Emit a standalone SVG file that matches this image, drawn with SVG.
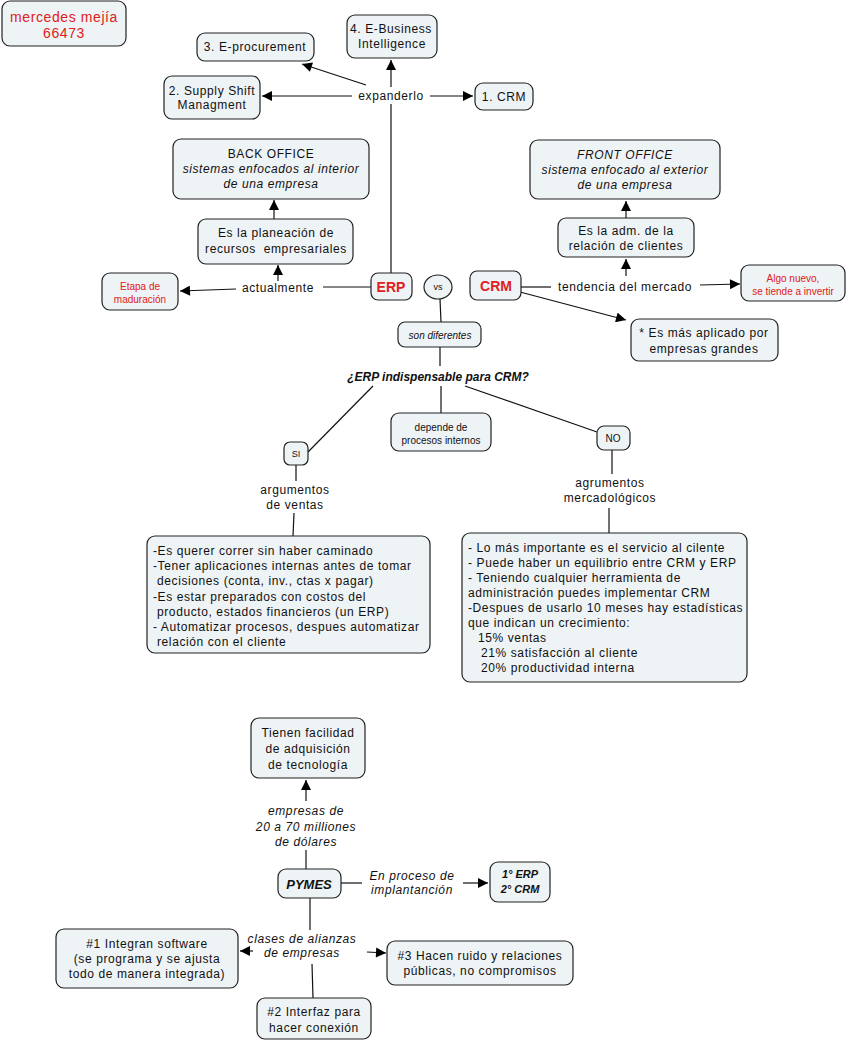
<svg xmlns="http://www.w3.org/2000/svg" width="847" height="1042" viewBox="0 0 847 1042">
<defs>
<marker id="a" viewBox="0 0 10 10" refX="10" refY="5" markerWidth="11" markerHeight="10" orient="auto" markerUnits="userSpaceOnUse"><path d="M0,0 L10,5 L0,10 z" fill="#000"/></marker>
<style>
.b{fill:#eef3f5;stroke:#222;stroke-width:1.2}
text{font-family:"Liberation Sans",Arial,sans-serif;font-size:12px;letter-spacing:0.6px;fill:#111;text-anchor:middle;dominant-baseline:central}
.l{text-anchor:start}
.i{font-style:italic}
.r{fill:#e02020}
.s{font-size:10px;letter-spacing:0}
.bi{font-weight:bold;font-style:italic;font-size:12.5px;letter-spacing:0}
.c{stroke:#111;stroke-width:1.2;fill:none}
.c.m{marker-end:url(#a)}
</style>
</defs>
<rect width="847" height="1042" fill="#fff"/>
<g id="connectors">
<line class="c" x1="391" y1="273" x2="391" y2="104"/>
<line class="c m" x1="391" y1="87" x2="391" y2="60"/>
<line class="c m" x1="352" y1="96" x2="262" y2="96"/>
<line class="c m" x1="430" y1="96" x2="473" y2="96"/>
<line class="c m" x1="366" y1="85" x2="302" y2="64"/>
<line class="c" x1="371" y1="287" x2="323" y2="287"/>
<line class="c m" x1="236" y1="289" x2="180" y2="291"/>
<line class="c m" x1="278" y1="281" x2="278" y2="265"/>
<line class="c m" x1="274" y1="219" x2="274" y2="200"/>
<line class="c" x1="440" y1="299" x2="441" y2="322"/>
<line class="c" x1="440" y1="347" x2="440" y2="366"/>
<line class="c" x1="373" y1="386" x2="308" y2="452"/>
<line class="c" x1="441" y1="386" x2="441" y2="413"/>
<line class="c" x1="465" y1="386" x2="597" y2="432"/>
<line class="c" x1="296" y1="465" x2="296" y2="481"/>
<line class="c" x1="294" y1="513" x2="293" y2="536"/>
<line class="c" x1="612" y1="450" x2="612" y2="474"/>
<line class="c" x1="609" y1="508" x2="609" y2="533"/>
<line class="c" x1="521" y1="287" x2="551" y2="287"/>
<line class="c m" x1="700" y1="285" x2="740" y2="284"/>
<line class="c m" x1="626" y1="276" x2="626" y2="259"/>
<line class="c m" x1="626" y1="218" x2="626" y2="201"/>
<line class="c m" x1="520" y1="292" x2="626" y2="320"/>
<line class="c" x1="306" y1="869" x2="306" y2="850"/>
<line class="c m" x1="306" y1="801" x2="306" y2="780"/>
<line class="c" x1="341" y1="883" x2="362" y2="883"/>
<line class="c m" x1="463" y1="883" x2="488" y2="883"/>
<line class="c" x1="310" y1="898" x2="310" y2="930"/>
<line class="c m" x1="253" y1="951" x2="240" y2="951"/>
<line class="c m" x1="367" y1="952" x2="386" y2="953"/>
<line class="c" x1="312" y1="964" x2="313" y2="998"/>
</g>
<g id="n-mercedes"><rect class="b" x="2" y="1" width="124" height="45" rx="8"/><text class="r" x="64" y="17" style="font-size:14px">mercedes mejía</text><text class="r" x="64" y="33" style="font-size:14px">66473</text></g>
<g id="n-eproc"><rect class="b" x="197" y="33" width="117" height="28" rx="8"/><text x="255" y="47">3. E-procurement</text></g>
<g id="n-ebi"><rect class="b" x="347" y="15" width="90" height="43" rx="8"/><text x="391" y="29">4. E-Business</text><text x="392" y="44">Intelligence</text></g>
<g id="n-supply"><rect class="b" x="164" y="76" width="96" height="43" rx="8"/><text x="212" y="91">2. Supply Shift</text><text x="212" y="105">Managment</text></g>
<g id="n-expanderlo"><text x="391" y="96">expanderlo</text></g>
<g id="n-crm1"><rect class="b" x="475" y="83" width="58" height="27" rx="8"/><text x="504" y="97">1. CRM</text></g>
<g id="n-back"><rect class="b" x="173" y="139" width="196" height="60" rx="8"/><text x="271" y="154">BACK OFFICE</text><text class="i" x="271" y="169">sistemas enfocados al interior</text><text class="i" x="271" y="184">de una empresa</text></g>
<g id="n-planeacion"><rect class="b" x="198" y="219" width="155" height="45" rx="8"/><text x="276" y="233">Es la planeación de</text><text x="276" y="249" xml:space="preserve">recursos  empresariales</text></g>
<g id="n-actualmente"><text x="278" y="288">actualmente</text></g>
<g id="n-etapa"><rect class="b" x="102" y="273" width="76" height="37" rx="8"/><text class="r s" x="140" y="286">Etapa de</text><text class="r s" x="140" y="299">maduración</text></g>
<g id="n-erp"><rect class="b" x="371" y="273" width="41" height="27" rx="7"/><text class="r" x="391" y="287" style="font-size:14px;font-weight:bold;letter-spacing:0">ERP</text></g>
<g id="n-vs"><ellipse class="b" cx="438" cy="287" rx="14" ry="12"/><text x="438" y="287" style="font-size:9px;letter-spacing:0">vs</text></g>
<g id="n-crm"><rect class="b" x="470" y="271" width="51" height="29" rx="7"/><text class="r" x="496" y="286" style="font-size:14px;font-weight:bold;letter-spacing:0">CRM</text></g>
<g id="n-tendencia"><text x="625" y="287">tendencia del mercado</text></g>
<g id="n-front"><rect class="b" x="530" y="140" width="190" height="59" rx="8"/><text class="i" x="625" y="155">FRONT OFFICE</text><text class="i" x="625" y="170">sistema enfocado al exterior</text><text class="i" x="625" y="185">de una empresa</text></g>
<g id="n-adm"><rect class="b" x="558" y="218" width="136" height="39" rx="8"/><text x="626" y="231">Es la adm. de la</text><text x="626" y="246">relación de clientes</text></g>
<g id="n-algo"><rect class="b" x="741" y="265" width="104" height="36" rx="8"/><text class="r s" x="793" y="278">Algo nuevo,</text><text class="r s" x="793" y="291">se tiende a invertir</text></g>
<g id="n-aplicado"><rect class="b" x="631" y="319" width="147" height="42" rx="8"/><text x="704" y="333">* Es más aplicado por</text><text x="704" y="349">empresas grandes</text></g>
<g id="n-diferentes"><rect class="b" x="398" y="322" width="83" height="25" rx="7"/><text class="i s" x="440" y="335">son diferentes</text></g>
<g id="n-pregunta"><text class="bi" x="438" y="377" style="font-size:12px">¿ERP indispensable para CRM?</text></g>
<g id="n-depende"><rect class="b" x="391" y="413" width="100" height="38" rx="8"/><text class="s" x="441" y="427">depende de</text><text class="s" x="441" y="440">procesos internos</text></g>
<g id="n-si"><rect class="b" x="284" y="442" width="24" height="23" rx="6"/><text x="296" y="454" style="font-size:9px;letter-spacing:0">SI</text></g>
<g id="n-no"><rect class="b" x="597" y="426" width="33" height="24" rx="7"/><text class="s" x="613" y="438">NO</text></g>
<g id="n-argventas"><text x="295" y="490">argumentos</text><text x="295" y="505">de ventas</text></g>
<g id="n-argmerc"><text x="610" y="483">agrumentos</text><text x="610" y="498">mercadológicos</text></g>
<g id="n-sibox"><rect class="b" x="147" y="536" width="283" height="117" rx="8"/>
<text class="l" x="153" y="551">-Es querer correr sin haber caminado</text>
<text class="l" x="153" y="566">-Tener aplicaciones internas antes de tomar</text>
<text class="l" x="157" y="581">decisiones (conta, inv., ctas x pagar)</text>
<text class="l" x="153" y="597">-Es estar preparados con costos del</text>
<text class="l" x="157" y="612">producto, estados financieros (un ERP)</text>
<text class="l" x="153" y="627">- Automatizar procesos, despues automatizar</text>
<text class="l" x="157" y="642">relación con el cliente</text></g>
<g id="n-nobox"><rect class="b" x="462" y="533" width="285" height="149" rx="8"/>
<text class="l" x="468" y="548">- Lo más importante es el servicio al cilente</text>
<text class="l" x="468" y="563">- Puede haber un equilibrio entre CRM y ERP</text>
<text class="l" x="468" y="578">- Teniendo cualquier herramienta de</text>
<text class="l" x="468" y="593">administración puedes implementar CRM</text>
<text class="l" x="468" y="608">-Despues de usarlo 10 meses hay estadísticas</text>
<text class="l" x="468" y="623">que indican un crecimiento:</text>
<text class="l" x="478" y="638">15% ventas</text>
<text class="l" x="481" y="653">21% satisfacción al cliente</text>
<text class="l" x="481" y="668">20% productividad interna</text></g>
<g id="n-tienen"><rect class="b" x="251" y="718" width="114" height="60" rx="8"/><text x="308" y="733">Tienen facilidad</text><text x="308" y="749">de adquisición</text><text x="308" y="765">de tecnología</text></g>
<g id="n-empresas"><text class="i" x="306" y="811">empresas de</text><text class="i" x="306" y="827">20 a 70 milliones</text><text class="i" x="306" y="842">de dólares</text></g>
<g id="n-pymes"><rect class="b" x="278" y="869" width="63" height="29" rx="8"/><text class="bi" x="309" y="884" style="font-size:13px">PYMES</text></g>
<g id="n-proceso"><text class="i" x="412" y="876">En proceso de</text><text class="i" x="412" y="890">implantanción</text></g>
<g id="n-orden"><rect class="b" x="490" y="862" width="60" height="40" rx="8"/><text class="bi" x="520" y="874" style="font-size:11px">1° ERP</text><text class="bi" x="520" y="889" style="font-size:11px">2° CRM</text></g>
<g id="n-clases"><text class="i" x="302" y="939">clases de alianzas</text><text class="i" x="302" y="953">de empresas</text></g>
<g id="n-1"><rect class="b" x="56" y="929" width="182" height="59" rx="8"/><text x="147" y="944">#1  Integran software</text><text x="147" y="959">(se programa y se ajusta</text><text x="147" y="974">todo de manera integrada)</text></g>
<g id="n-3"><rect class="b" x="387" y="941" width="186" height="44" rx="8"/><text x="480" y="956">#3 Hacen ruido y relaciones</text><text x="480" y="971">públicas, no compromisos</text></g>
<g id="n-2"><rect class="b" x="257" y="998" width="114" height="41" rx="8"/><text x="314" y="1012">#2 Interfaz para</text><text x="314" y="1028">hacer conexión</text></g>
</svg>
